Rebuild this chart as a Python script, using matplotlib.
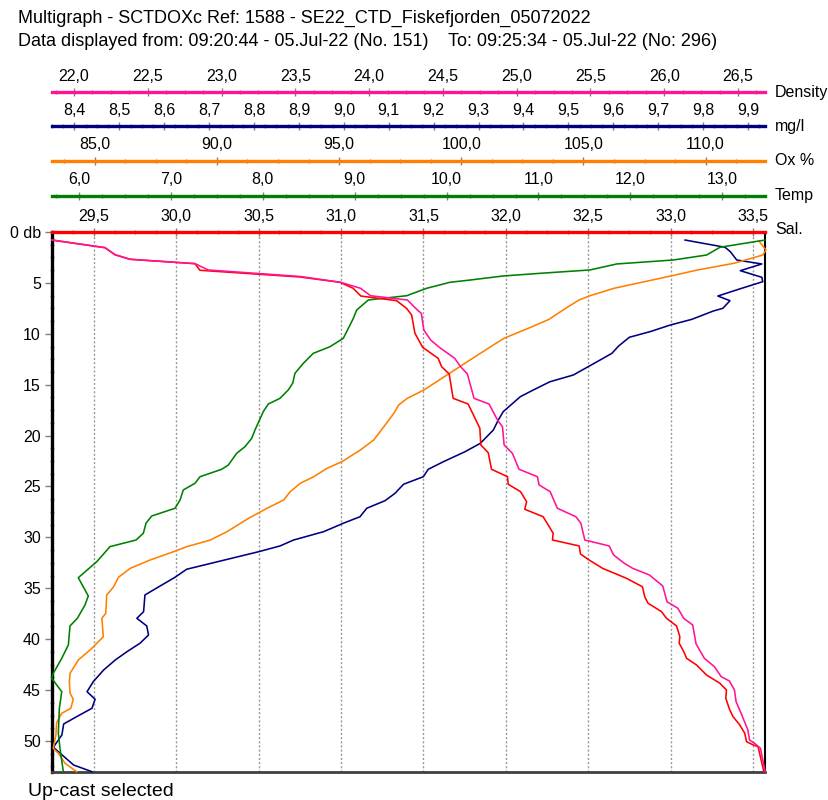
import matplotlib
matplotlib.use("Agg")
import matplotlib.pyplot as plt
from matplotlib.ticker import MultipleLocator, FuncFormatter

plt.rcParams['font.family'] = ['Liberation Sans', 'DejaVu Sans']

# === Data ===
sal_depth = [0.79, 1.54, 2.23, 2.68, 3.11, 3.76, 4.42, 4.94, 5.53, 6.29, 6.75, 7.50, 8.15, 9.95,
             11.33, 12.41, 13.23, 13.95, 16.34, 16.90, 19.28, 20.92, 21.68, 23.31, 24.04, 24.78,
             25.51, 26.49, 27.24, 27.97, 28.78, 29.60, 30.26, 30.84, 31.63, 32.22, 33.04, 34.02,
             34.85, 35.83, 36.47, 37.30, 37.95, 38.70, 39.75, 40.40, 41.23, 41.88, 42.53, 43.52,
             44.33, 44.99, 45.81, 46.95, 47.61, 48.43, 49.24, 50.07, 50.39, 50.56, 53.02]
sal_vals = [29.245, 29.567, 29.627, 29.718, 30.113, 30.143, 30.750, 30.993, 31.073, 31.120, 31.337,
            31.397, 31.428, 31.448, 31.495, 31.589, 31.610, 31.656, 31.680, 31.771, 31.842, 31.848,
            31.893, 31.913, 32.010, 32.014, 32.089, 32.126, 32.115, 32.226, 32.257, 32.287, 32.283,
            32.445, 32.453, 32.505, 32.587, 32.732, 32.829, 32.843, 32.863, 32.945, 32.975, 33.036,
            33.056, 33.052, 33.080, 33.097, 33.157, 33.218, 33.299, 33.339, 33.335, 33.359, 33.379,
            33.420, 33.450, 33.461, 33.501, 33.531, 33.566]

dens_depth = [0.79, 1.54, 2.23, 2.68, 3.11, 3.73, 4.37, 4.94, 5.53, 6.26, 6.68, 7.66, 7.99, 9.63,
              10.61, 11.33, 12.41, 13.23, 13.95, 16.34, 16.90, 18.47, 19.13, 20.92, 21.74, 23.31,
              24.04, 24.85, 25.51, 27.14, 27.97, 28.61, 30.26, 30.84, 31.73, 32.54, 33.04, 33.69,
              34.77, 36.32, 36.96, 37.95, 38.61, 40.47, 41.88, 42.70, 43.68, 44.11, 44.99, 46.14,
              47.28, 48.92, 49.90, 50.23, 50.72, 53.02]
dens_vals = [21.851, 22.210, 22.278, 22.380, 22.821, 22.910, 23.534, 23.806, 23.942, 24.010, 24.259,
             24.327, 24.354, 24.371, 24.417, 24.476, 24.580, 24.620, 24.666, 24.711, 24.813, 24.870,
             24.904, 24.915, 24.971, 25.016, 25.141, 25.152, 25.227, 25.276, 25.401, 25.435, 25.462,
             25.627, 25.657, 25.729, 25.786, 25.899, 25.990, 26.019, 26.092, 26.132, 26.193, 26.216,
             26.272, 26.340, 26.386, 26.442, 26.476, 26.487, 26.521, 26.567, 26.578, 26.612, 26.652,
             26.684]

temp_depth = [0.79, 1.50, 2.26, 2.75, 3.14, 3.73, 4.06, 4.32, 4.72, 4.94, 5.53, 6.26, 6.51, 6.68,
              7.66, 8.48, 9.14, 10.44, 11.27, 11.92, 12.90, 13.88, 14.86, 15.52, 16.34, 16.90,
              17.65, 19.45, 20.27, 21.09, 21.74, 22.89, 23.31, 24.04, 24.69, 25.34, 26.33, 27.14,
              27.90, 28.61, 29.60, 30.26, 30.91, 32.39, 33.96, 35.76, 36.64, 37.95, 38.70, 40.57,
              41.88, 43.35, 43.84, 45.16, 46.79, 49.24, 50.72, 53.02]
temp_vals = [13.465, 12.975, 12.830, 12.467, 11.851, 11.560, 11.016, 10.617, 10.255, 10.037, 9.783,
             9.566, 9.311, 9.148, 9.022, 8.985, 8.949, 8.876, 8.731, 8.549, 8.441, 8.350, 8.325,
             8.277, 8.187, 8.060, 8.005, 7.915, 7.879, 7.806, 7.716, 7.625, 7.553, 7.317, 7.262,
             7.135, 7.099, 7.045, 6.791, 6.729, 6.700, 6.620, 6.337, 6.193, 5.992, 6.101, 6.065,
             5.982, 5.902, 5.884, 5.812, 5.720, 5.703, 5.812, 5.786, 5.775, 5.793, 5.829]

ox_depth = [0.88, 1.77, 2.26, 3.07, 3.73, 4.32, 5.53, 6.29, 6.68, 7.50, 8.58, 9.36, 10.44, 11.27,
            12.74, 15.52, 16.34, 16.99, 17.81, 19.13, 20.43, 21.41, 22.56, 23.21, 24.04, 24.69,
            25.51, 26.33, 27.14, 28.12, 29.44, 30.26, 30.91, 31.41, 32.22, 33.04, 33.92, 34.90,
            35.66, 37.46, 37.95, 39.76, 40.90, 42.04, 43.35, 44.17, 45.31, 45.90, 46.79, 47.28,
            48.20, 49.41, 50.72, 51.21, 52.19, 53.02]
ox_vals = [112.18, 112.47, 112.34, 111.17, 109.67, 108.58, 106.25, 105.23, 104.82, 104.27, 103.59,
           102.84, 101.75, 101.20, 100.25, 98.47, 97.79, 97.44, 97.24, 96.83, 96.42, 95.87, 95.12,
           94.51, 93.96, 93.41, 93.00, 92.73, 92.05, 91.30, 90.41, 89.73, 88.77, 88.22, 87.27,
           86.45, 85.97, 85.76, 85.49, 85.45, 85.29, 85.35, 84.88, 84.33, 83.99, 83.96, 83.99,
           84.12, 84.02, 83.65, 83.44, 83.41, 83.30, 83.51, 83.78, 84.26]

mgl_depth = [0.79, 1.50, 1.94, 2.75, 3.14, 3.80, 4.45, 4.88, 5.63, 6.29, 6.75, 7.50, 7.76, 8.58,
             9.14, 9.79, 10.34, 11.20, 11.92, 12.57, 14.05, 14.71, 15.52, 16.18, 17.65, 18.47,
             19.45, 20.76, 21.58, 22.56, 23.31, 24.04, 24.78, 25.67, 26.39, 27.14, 27.97, 28.61,
             29.44, 30.26, 30.84, 31.41, 33.13, 33.92, 34.77, 35.66, 37.30, 37.95, 38.70, 39.59,
             40.40, 41.23, 42.04, 43.03, 44.17, 45.16, 45.90, 46.79, 47.61, 48.33, 49.41, 50.62,
             52.36, 53.02]
mgl_vals = [9.760, 9.849, 9.861, 9.875, 9.931, 9.883, 9.931, 9.933, 9.879, 9.833, 9.860, 9.844,
            9.823, 9.775, 9.727, 9.682, 9.636, 9.612, 9.597, 9.571, 9.511, 9.459, 9.422, 9.393,
            9.355, 9.344, 9.333, 9.304, 9.270, 9.222, 9.188, 9.177, 9.133, 9.114, 9.092, 9.051,
            9.036, 8.999, 8.955, 8.888, 8.858, 8.810, 8.650, 8.624, 8.591, 8.557, 8.554, 8.539,
            8.561, 8.565, 8.546, 8.517, 8.491, 8.465, 8.442, 8.428, 8.446, 8.439, 8.405, 8.376,
            8.372, 8.353, 8.398, 8.439]

# === Couleurs et échelles ===
c_sal = "#ff0000"
c_dens = "#ff1493"
c_mgl = "#000080"
c_ox = "#ff8000"
c_temp = "#008000"

W, H = 829, 800
L, R = 52 / W, 765 / W
TOP, BOT = 1 - 232 / H, 1 - 771.5 / H
DEPTH_MAX = 53.0


def comma(v, p):
    return f"{v:.1f}".replace(".", ",")


fig = plt.figure(figsize=(W / 100, H / 100), dpi=100)
ax = fig.add_axes([L, BOT, R - L, TOP - BOT])

# --- axes secondaires (lignes au-dessus du graphique) ---
extra = [
    ("Density", c_dens, 92, (21.851, 26.683), 0.5, 0.125),
    ("mg/l", c_mgl, 126, (8.350, 9.938), 0.1, 0.025),
    ("Ox %", c_ox, 160.7, (83.25, 112.43), 5, 1.25),
    ("Temp", c_temp, 195.7, (5.706, 13.465), 1, 0.25),
]
limits = {}
for name, col, ypix, lims, major, minor in extra:
    a = fig.add_axes([L, 1 - ypix / H - 0.001, R - L, 0.001])
    a.patch.set_visible(False)
    for s in ["left", "right", "bottom"]:
        a.spines[s].set_visible(False)
    a.spines["top"].set_color(col)
    a.spines["top"].set_linewidth(2.4)
    a.set_yticks([])
    a.set_xlim(*lims)
    a.xaxis.tick_top()
    a.xaxis.set_major_locator(MultipleLocator(major))
    a.xaxis.set_minor_locator(MultipleLocator(minor))
    a.xaxis.set_major_formatter(FuncFormatter(comma))
    a.tick_params(axis="x", which="major", direction="inout", length=6, width=1, color="gray",
                  labelsize=11.5, pad=3)
    a.tick_params(axis="x", which="minor", direction="inout", length=3, width=1, color="gray")
    fig.text(775 / W, 1 - ypix / H, name, fontsize=11.5, va="center", ha="left")
    limits[name] = lims
fig.text(775 / W, 1 - 230 / H, "Sal.", fontsize=11.5, va="center", ha="left")

# --- tracés : chaque série sur son propre axe x (mêmes profondeurs) ---
series = [
    ("mg/l", mgl_vals, mgl_depth, c_mgl),
    ("Ox %", ox_vals, ox_depth, c_ox),
    ("Temp", temp_vals, temp_depth, c_temp),
    ("Sal.", sal_vals, sal_depth, c_sal),
    ("Density", dens_vals, dens_depth, c_dens),
]
limits["Sal."] = (29.245, 33.573)
for name, vals, depth, col in series:
    tw = ax.twiny()
    tw.set_xlim(*limits[name])
    tw.set_ylim(DEPTH_MAX, 0)
    tw.axis("off")
    tw.plot(vals, depth, color=col, lw=1.15, clip_on=False)

# --- axe principal : salinité / profondeur (configuré après twiny) ---
ax.set_xlim(*limits["Sal."])
ax.set_ylim(DEPTH_MAX, 0)
ax.xaxis.tick_top()
ax.xaxis.set_major_locator(MultipleLocator(0.5))
ax.xaxis.set_minor_locator(MultipleLocator(0.125))
ax.xaxis.set_major_formatter(FuncFormatter(comma))
ax.tick_params(axis="x", which="major", direction="inout", length=6, width=1, color="gray",
               labelsize=11.5, pad=3, top=True, bottom=False, labeltop=True, labelbottom=False)
ax.tick_params(axis="x", which="minor", direction="inout", length=3, width=1, color="gray",
               top=True, bottom=False)
ax.yaxis.set_major_locator(MultipleLocator(5))
ax.yaxis.set_minor_locator(MultipleLocator(1.25))
ax.yaxis.set_major_formatter(FuncFormatter(lambda v, p: "0 db" if v == 0 else f"{v:.0f}"))
ax.tick_params(axis="y", which="major", direction="out", length=5, width=1, color="gray",
               labelsize=11.5, pad=3)
ax.tick_params(axis="y", which="minor", direction="inout", length=3, width=1, color="gray")
ax.grid(axis="x", which="major", linestyle=(0, (1.5, 1.5)), color="#999999", lw=1)
ax.spines["top"].set_color(c_sal)
ax.spines["top"].set_linewidth(2.4)
ax.spines["left"].set_color("black")
ax.spines["left"].set_linewidth(2.4)
ax.spines["bottom"].set_color("#404040")
ax.spines["bottom"].set_linewidth(2.0)
ax.spines["right"].set_color("black")
ax.spines["right"].set_linewidth(1.5)

# --- textes ---
fig.text(18 / W, 1 - 18 / H, "Multigraph - SCTDOXc Ref: 1588 - SE22_CTD_Fiskefjorden_05072022",
         fontsize=13, va="center", ha="left")
fig.text(18 / W, 1 - 41 / H,
         "Data displayed from: 09:20:44 - 05.Jul-22 (No. 151)    To: 09:25:34 - 05.Jul-22 (No: 296)",
         fontsize=13, va="center", ha="left")
fig.text(28 / W, 1 - 792 / H, "Up-cast selected", fontsize=14, va="center", ha="left")

fig.savefig("out.png", dpi=100)
